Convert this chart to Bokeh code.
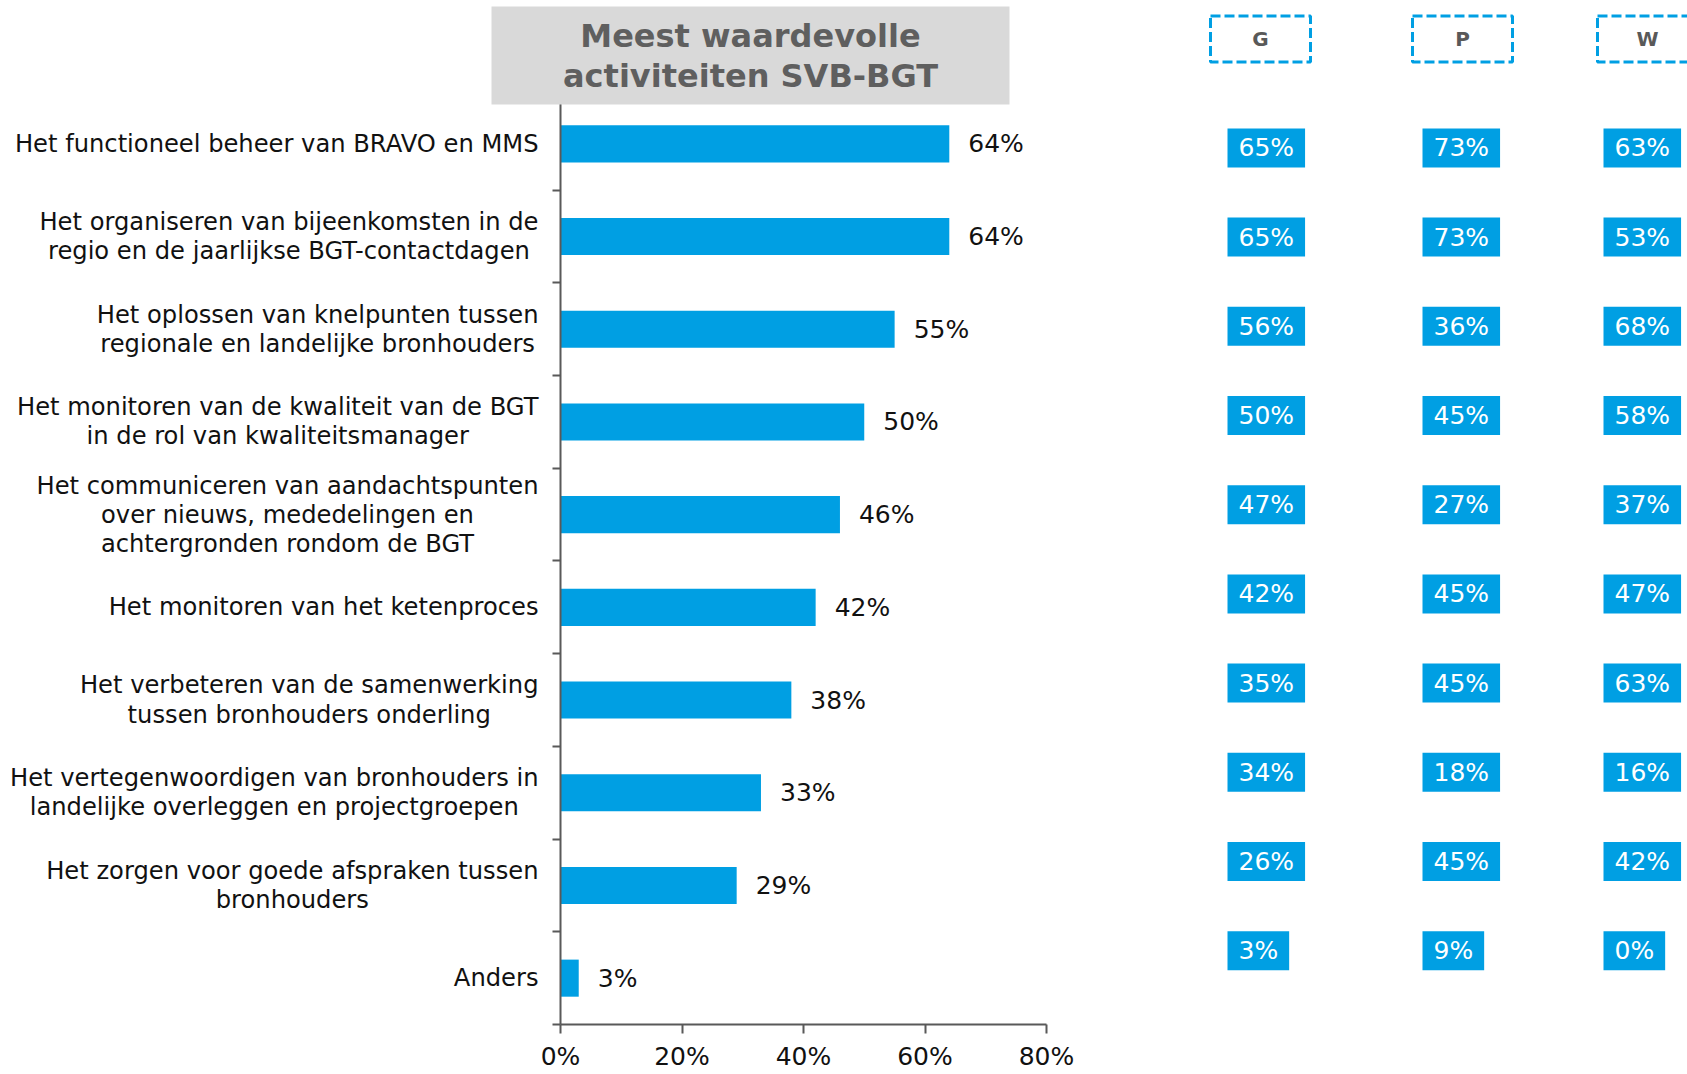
from bokeh.plotting import figure
from bokeh.models import Range1d, FixedTicker, ColumnDataSource, LinearAxis
from bokeh.embed import file_html
from bokeh.resources import INLINE

# ---------------- data ----------------
categories = [
    "Het functioneel beheer van BRAVO en MMS",
    "Het organiseren van bijeenkomsten in de\nregio en de jaarlijkse BGT-contactdagen",
    "Het oplossen van knelpunten tussen\nregionale en landelijke bronhouders",
    "Het monitoren van de kwaliteit van de BGT\nin de rol van kwaliteitsmanager",
    "Het communiceren van aandachtspunten\nover nieuws, mededelingen en\nachtergronden rondom de BGT",
    "Het monitoren van het ketenproces",
    "Het verbeteren van de samenwerking\ntussen bronhouders onderling",
    "Het vertegenwoordigen van bronhouders in\nlandelijke overleggen en projectgroepen",
    "Het zorgen voor goede afspraken tussen\nbronhouders",
    "Anders",
]
overall = [64, 64, 55, 50, 46, 42, 38, 33, 29, 3]
x_ticks = [0, 20, 40, 60, 80]
x_tick_labels = ["0%", "20%", "40%", "60%", "80%"]
group_names = ["G", "P", "W"]
g_values = [65, 65, 56, 50, 47, 42, 35, 34, 26, 3]
p_values = [73, 73, 36, 45, 27, 45, 45, 18, 45, 9]
w_values = [63, 53, 68, 58, 37, 47, 63, 16, 42, 0]
chart_title = "Meest waardevolle\nactiviteiten SVB-BGT"

# ---------------- styles / layout constants ----------------
BLUE = "#009FE3"
FONT = "DejaVu Sans"
AXIS = "#595959"
TXT = "#111111"
W, H = 1687, 1074

rows = list(range(len(categories)))

p = figure(width=W, height=H,
           x_range=Range1d(-92.181, 185.514), y_range=Range1d(10.0394, -1.5464),
           x_axis_type=None, y_axis_type=None, output_backend="svg", toolbar_location=None,
           min_border=0)
p.outline_line_color = None
p.extra_x_ranges = {"cols": Range1d(-1190, 497)}
p.extra_y_ranges = {"cols": Range1d(10.388, -1.6525)}

# title box (drawn above the axis line)
p.rect(x=[31.276], y=[-0.9531], width=518, height=98, width_units="screen", height_units="screen",
       fill_color="#d9d9d9", line_color=None, level="overlay")
p.text(x=[31.276], y=[-0.9455], text=[chart_title], anchor="center", text_align="center",
       text_font={"value": FONT}, text_font_size="32px", text_font_style="bold",
       text_color="#5f5f5f", text_line_height=1.04, level="overlay")

# bars + value labels
src = ColumnDataSource(dict(y=rows, v=overall, lab=[f"{v}%" for v in overall]))
p.hbar(y="y", left=0, right="v", height=0.4, fill_color=BLUE, line_color=None, source=src)
p.text(x="v", y="y", text="lab", x_offset=19, text_align="left", text_baseline="middle",
       text_font={"value": FONT}, text_font_size="25px", text_color=TXT, source=src)

# category labels (block right aligned, lines centred)
src_l = ColumnDataSource(dict(x=[-3.621] * len(rows), y=rows, cat=categories))
p.text(x="x", y="y", text="cat", anchor="center_right", text_align="center",
       text_font={"value": FONT}, text_font_size="24.2px", text_color=TXT,
       text_line_height=1.04, source=src_l)

# axes
xax = LinearAxis(ticker=FixedTicker(ticks=x_ticks), fixed_location=rows[-1] + 0.5,
                 bounds=(x_ticks[0], x_ticks[-1]),
                 major_label_overrides={t: l for t, l in zip(x_ticks, x_tick_labels)})
xax.axis_line_color = AXIS
xax.axis_line_width = 2
xax.major_tick_line_color = AXIS
xax.major_tick_line_width = 2
xax.major_tick_in = 0
xax.major_tick_out = 9
xax.minor_tick_line_color = None
xax.major_label_text_font = FONT
xax.major_label_text_font_size = "25px"
xax.major_label_text_color = TXT
xax.major_label_standoff = 9
p.add_layout(xax, "below")

ybounds = [r - 0.5 for r in rows] + [rows[-1] + 0.5]
yax = LinearAxis(ticker=FixedTicker(ticks=ybounds), fixed_location=0,
                 bounds=(ybounds[0], ybounds[-1]))
yax.axis_line_color = AXIS
yax.axis_line_width = 2
yax.major_tick_line_color = AXIS
yax.major_tick_line_width = 2
yax.major_tick_in = 0
yax.major_tick_out = 8
yax.minor_tick_line_color = None
yax.major_label_text_font_size = "0px"
yax.major_label_text_color = None
yax.major_label_standoff = 0
p.add_layout(yax, "left")

# group columns
header_x = [70, 272, 457]
box_left = [37, 232, 413]
header_y = -1.2209

hsrc = ColumnDataSource(dict(x=header_x, y=[header_y] * 3, t=group_names))
p.rect(x="x", y="y", width=100, height=46, width_units="screen", height_units="screen",
       fill_color=None, line_color=BLUE, line_width=3, line_dash="10 4", source=hsrc,
       x_range_name="cols", y_range_name="cols")
p.text(x="x", y="y", text="t", text_align="center", text_baseline="middle",
       text_font={"value": FONT}, text_font_size="20px", text_font_style="bold",
       text_color="#595959", source=hsrc, x_range_name="cols", y_range_name="cols")

for xl, vals in zip(box_left, [g_values, p_values, w_values]):
    s = ColumnDataSource(dict(x=[xl] * len(vals), y=rows, t=[f"{v}%" for v in vals]))
    p.text(x="x", y="y", text="t", anchor="center_left", text_align="left",
           text_font={"value": FONT}, text_font_size="25px", text_color="white",
           background_fill_color=BLUE, padding=dict(x=11, y=5), source=s,
           x_range_name="cols", y_range_name="cols")

open("out.html", "w").write(file_html(p, INLINE))
